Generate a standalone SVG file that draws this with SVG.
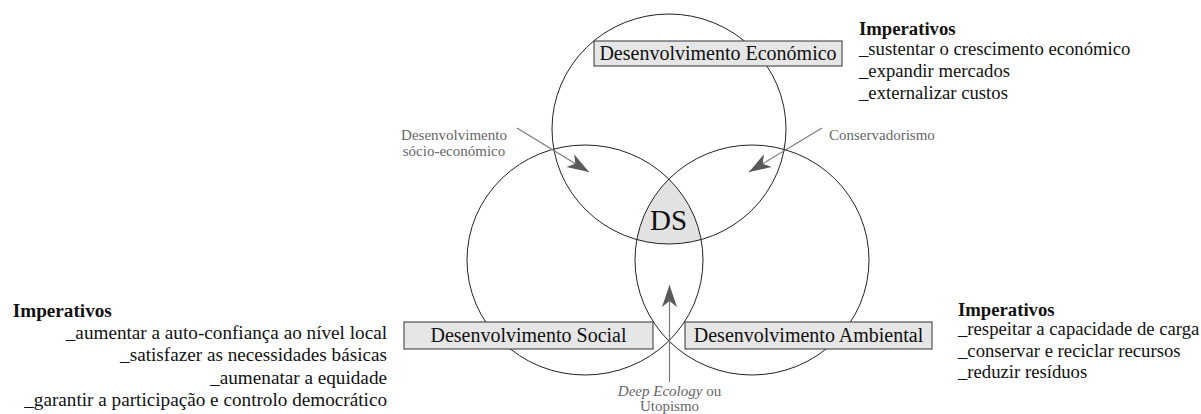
<svg xmlns="http://www.w3.org/2000/svg" width="1201" height="414" viewBox="0 0 1201 414">
  <style>
    .circ { fill: none; stroke: #222; stroke-width: 1; }
    .box { fill: #e6e6e6; stroke: #333; stroke-width: 1; }
    .boxt { font-family: "Liberation Serif", "Times New Roman", serif; font-size: 20px; fill: #111; text-anchor: middle; }
    .imp { font-family: "Liberation Serif", "Times New Roman", serif; fill: #111; }
    .impb { font-weight: bold; }
    .lbl { font-family: "Liberation Serif", "Times New Roman", serif; font-size: 15px; fill: #666; }
    .conn { stroke: #7a7a7a; stroke-width: 1.2; fill: none; marker-end: url(#ah); }
  </style>
  <defs>
    <marker id="ah" viewBox="-23 -9 25 18" refX="0" refY="0" markerWidth="25" markerHeight="18" markerUnits="userSpaceOnUse" orient="auto">
      <path d="M0,0 L-22,-7.5 L-16,0 L-22,7.5 Z" fill="#595959"/>
    </marker>
    <clipPath id="cL"><ellipse cx="585" cy="260" rx="118" ry="115"/></clipPath>
    <clipPath id="cR"><ellipse cx="752" cy="260" rx="117" ry="115"/></clipPath>
  </defs>
  <rect x="0" y="0" width="1201" height="414" fill="#fff"/>

  <g id="ds-region">
    <g clip-path="url(#cL)">
      <g clip-path="url(#cR)">
        <ellipse cx="669" cy="129" rx="117" ry="115" fill="#e2e2e2"/>
      </g>
    </g>
  </g>

  <g id="circles">
    <ellipse id="circle-economico" class="circ" cx="669" cy="129" rx="117" ry="115"/>
    <ellipse id="circle-social" class="circ" cx="585" cy="260" rx="118" ry="115"/>
    <ellipse id="circle-ambiental" class="circ" cx="752" cy="260" rx="117" ry="115"/>
  </g>

  <g id="node-ds">
    <text x="668.5" y="230" font-family="Liberation Serif, Times New Roman, serif" font-size="29" fill="#111" text-anchor="middle">DS</text>
  </g>

  <g id="connectors">
    <line class="conn" x1="517" y1="128" x2="589" y2="172"/>
    <line class="conn" x1="822" y1="128" x2="749" y2="172"/>
    <line class="conn" x1="669.5" y1="382" x2="669.5" y2="285"/>
  </g>

  <g id="node-economico">
    <rect class="box" x="594" y="41" width="248" height="25"/>
    <text class="boxt" x="718" y="60">Desenvolvimento Económico</text>
  </g>
  <g id="node-social">
    <rect class="box" x="404" y="322" width="249" height="27"/>
    <text class="boxt" x="528.5" y="342">Desenvolvimento Social</text>
  </g>
  <g id="node-ambiental">
    <rect class="box" x="685" y="322" width="247" height="27"/>
    <text class="boxt" x="808.5" y="342">Desenvolvimento Ambiental</text>
  </g>

  <g id="imperativos-economico" class="imp" font-size="18.7">
    <text class="impb" x="859" y="35">Imperativos</text>
    <text x="859" y="55">_sustentar o crescimento económico</text>
    <text x="859" y="77">_expandir mercados</text>
    <text x="859" y="98.5">_externalizar custos</text>
  </g>

  <g id="imperativos-social" class="imp" font-size="19.2">
    <text class="impb" x="12.7" y="316.5">Imperativos</text>
    <text x="387" y="338.5" text-anchor="end">_aumentar a auto-confiança ao nível local</text>
    <text x="387" y="361" text-anchor="end">_satisfazer as necessidades básicas</text>
    <text x="387" y="383.5" text-anchor="end">_aumenatar a equidade</text>
    <text x="387" y="406" text-anchor="end">_garantir a participação e controlo democrático</text>
  </g>

  <g id="imperativos-ambiental" class="imp" font-size="18.7">
    <text class="impb" x="958" y="315.5">Imperativos</text>
    <text x="958" y="335">_respeitar a capacidade de carga</text>
    <text x="958" y="356.5">_conservar e reciclar recursos</text>
    <text x="958" y="378">_reduzir resíduos</text>
  </g>

  <g id="label-socioeconomico" class="lbl">
    <text x="454" y="140" text-anchor="middle">Desenvolvimento</text>
    <text x="454" y="156" text-anchor="middle">sócio-económico</text>
  </g>
  <g id="label-conservadorismo" class="lbl">
    <text x="829" y="140">Conservadorismo</text>
  </g>
  <g id="label-deepecology" class="lbl">
    <text x="669.5" y="396" text-anchor="middle"><tspan font-style="italic">Deep Ecology</tspan> ou</text>
    <text x="669.5" y="411" text-anchor="middle">Utopismo</text>
  </g>
</svg>
